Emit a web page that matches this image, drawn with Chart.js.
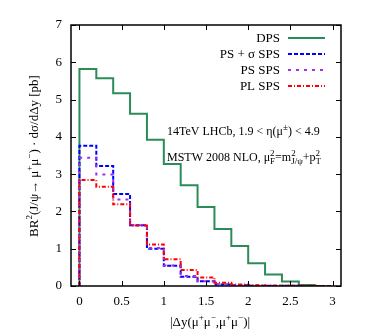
<!DOCTYPE html>
<html><head><meta charset="utf-8">
<script src="https://cdn.jsdelivr.net/npm/chart.js@4/dist/chart.umd.min.js"></script>
<style>html,body{margin:0;padding:0;background:#fff}#wrap{width:379px;height:332px;position:relative}</style>
</head><body><div id="wrap"><canvas id="c" width="379" height="332"></canvas></div>
<script>
// bin edges (width 0.2)
const binEdges = [0,0.2,0.4,0.6,0.8,1.0,1.2,1.4,1.6,1.8,2.0,2.2,2.4,2.6,2.8,3.0];
const dpsValues     = [5.82,5.57,5.17,4.62,3.92,3.27,2.70,2.12,1.53,1.07,0.61,0.31,0.12,0.03];
const psSigmaValues = [3.76,3.22,2.47,1.63,1.00,0.54,0.25,0.13,0.04,0.02,0.01,0.01,0.005,0.003,0.002];
const psValues      = [3.44,2.99,2.32,1.63,1.02,0.55,0.27,0.13,0.05,0.02,0.01,0.01,0.005,0.003,0.002];
const plValues      = [2.84,2.66,2.19,1.62,1.11,0.72,0.43,0.23,0.09,0.04,0.02,0.01,0.006,0.004,0.002];
const seriesNames = ['DPS','PS + \u03c3 SPS','PS SPS','PL SPS'];
const xTicks = [0,0.5,1,1.5,2,2.5,3];
const xTickLabels = ['0','0.5','1','1.5','2','2.5','3'];
const yTicks = [0,1,2,3,4,5,6,7];

const FONT = '"Liberation Serif", "Times New Roman", serif';

function histPoints(vals){
  const pts = [{x:binEdges[0], y:0}];
  vals.forEach((v,i)=>{ pts.push({x:binEdges[i],y:v}); pts.push({x:binEdges[i+1],y:v}); });
  return pts;
}

const styles = [
  {color:'#2b8c57', dash:[]},
  {color:'#0000ff', dash:[4,2]},
  {color:'#a030f0', dash:[3,5]},
  {color:'#ff0000', dash:[4,2,1,2]}
];
const allVals = [dpsValues, psSigmaValues, psValues, plValues];

const datasets = allVals.map((v,i)=>({
  label: seriesNames[i],
  data: histPoints(v),
  borderColor: styles[i].color,
  borderDash: styles[i].dash,
  borderWidth: 2,
  pointRadius: 0,
  fill: false,
  tension: 0,
  order: 4 - i
}));

function drawRich(ctx, segs, x, y, align, size){
  const small = Math.round(size*0.72);
  const widthOf = s => {
    if (s.t === 'n') { ctx.font = size+'px '+FONT; return ctx.measureText(s.s).width; }
    ctx.font = small+'px '+FONT;
    if (s.t === 'ss') return Math.max(ctx.measureText(s.sup).width, ctx.measureText(s.sub).width);
    return ctx.measureText(s.s).width;
  };
  let total = 0; segs.forEach(s=> total += widthOf(s));
  let cx = align==='center' ? x - total/2 : (align==='right' ? x - total : x);
  ctx.textBaseline = 'alphabetic'; ctx.textAlign = 'left';
  const base = y + size*0.35;
  segs.forEach(s=>{
    const w = widthOf(s);
    if (s.t === 'n'){ ctx.font = size+'px '+FONT; ctx.fillText(s.s, cx, base); }
    else {
      ctx.font = small+'px '+FONT;
      if (s.t==='sup' || s.t==='ss') ctx.fillText(s.t==='ss'?s.sup:s.s, cx, base - size*0.45);
      if (s.t==='sub' || s.t==='ss') ctx.fillText(s.t==='ss'?s.sub:s.s, cx, base + size*0.22);
    }
    cx += w;
  });
}

const decor = {
  id:'decor',
  afterDraw(chart){
    const ctx = chart.ctx, a = chart.chartArea;
    const xs = chart.scales.x, ys = chart.scales.y;
    ctx.save();
    // frame
    ctx.strokeStyle = '#000'; ctx.lineWidth = 1.5; ctx.setLineDash([]);
    ctx.strokeRect(a.left, a.top, a.right-a.left, a.bottom-a.top);
    ctx.lineWidth = 1;
    const tl = 5;
    xTicks.forEach(t=>{
      const px = Math.round(xs.getPixelForValue(t))+0.5;
      ctx.beginPath(); ctx.moveTo(px,a.bottom); ctx.lineTo(px,a.bottom-tl);
      ctx.moveTo(px,a.top); ctx.lineTo(px,a.top+tl); ctx.stroke();
    });
    yTicks.forEach(t=>{
      const py = Math.round(ys.getPixelForValue(t))+0.5;
      ctx.beginPath(); ctx.moveTo(a.left,py); ctx.lineTo(a.left+tl,py);
      ctx.moveTo(a.right,py); ctx.lineTo(a.right-tl,py); ctx.stroke();
    });
    // legend
    const ly = [38,54,70,86];
    chart.data.datasets.forEach((d,i)=>{
      ctx.fillStyle='#000'; ctx.font='13px '+FONT; ctx.textAlign='right'; ctx.textBaseline='middle';
      ctx.fillText(d.label, 280, ly[i]+1);
      ctx.strokeStyle=d.borderColor; ctx.lineWidth=2; ctx.setLineDash(d.borderDash);
      ctx.beginPath(); ctx.moveTo(288, ly[i]); ctx.lineTo(325, ly[i]); ctx.stroke();
    });
    ctx.setLineDash([]);
    ctx.fillStyle='#000';
    // annotations
    drawRich(ctx, [{t:'n',s:'14TeV LHCb, 1.9 < \u03b7(\u03bc'},{t:'sup',s:'\u00b1'},{t:'n',s:') < 4.9'}], 167, 131, 'left', 12);
    drawRich(ctx, [{t:'n',s:'MSTW 2008 NLO, \u03bc'},{t:'ss',sup:'2',sub:'F'},{t:'n',s:'=m'},{t:'ss',sup:'2',sub:'J/\u03c8'},{t:'n',s:'+p'},{t:'ss',sup:'2',sub:'T'}], 167, 157, 'left', 12);
    // x title
    drawRich(ctx, [{t:'n',s:'|\u0394y(\u03bc'},{t:'sup',s:'+'},{t:'n',s:'\u03bc'},{t:'sup',s:'\u2212'},{t:'n',s:',\u03bc'},{t:'sup',s:'+'},{t:'n',s:'\u03bc'},{t:'sup',s:'\u2212'},{t:'n',s:')|'}], 210, 321, 'center', 13);
    // y title
    ctx.save(); ctx.translate(33,156); ctx.rotate(-Math.PI/2);
    drawRich(ctx, [{t:'n',s:'BR'},{t:'sup',s:'2'},{t:'n',s:'(J/\u03c8\u2192 \u03bc'},{t:'sup',s:'+'},{t:'n',s:'\u03bc'},{t:'sup',s:'\u2212'},{t:'n',s:') \u00b7 d\u03c3/d\u0394y [pb]'}], 0, 0, 'center', 13);
    ctx.restore();
    ctx.restore();
  }
};

new Chart(document.getElementById('c'), {
  type:'line',
  data:{datasets},
  options:{
    responsive:false, animation:false, devicePixelRatio:1,
    layout:{padding:{left:0, top:25, right:38, bottom:0}},
    plugins:{legend:{display:false}, tooltip:{enabled:false}},
    scales:{
      x:{type:'linear', min:-0.1, max:3.1,
         afterFit: s=>{ s.height = 46; },
         afterBuildTicks: s=>{ s.ticks = xTicks.map(v=>({value:v})); },
         grid:{display:false, drawTicks:false}, border:{display:false},
         ticks:{color:'#000', font:{family:FONT, size:13}, padding:8, maxRotation:0, autoSkip:false,
                callback:(v,i)=> xTickLabels[xTicks.indexOf(v)] ?? String(v)}},
      y:{type:'linear', min:0, max:7,
         afterFit: s=>{ s.width = 71; },
         afterBuildTicks: s=>{ s.ticks = yTicks.map(v=>({value:v})); },
         grid:{display:false, drawTicks:false}, border:{display:false},
         ticks:{color:'#000', font:{family:FONT, size:13}, padding:9, callback:v=>String(v)}}
    }
  },
  plugins:[decor]
});
</script></body></html>
